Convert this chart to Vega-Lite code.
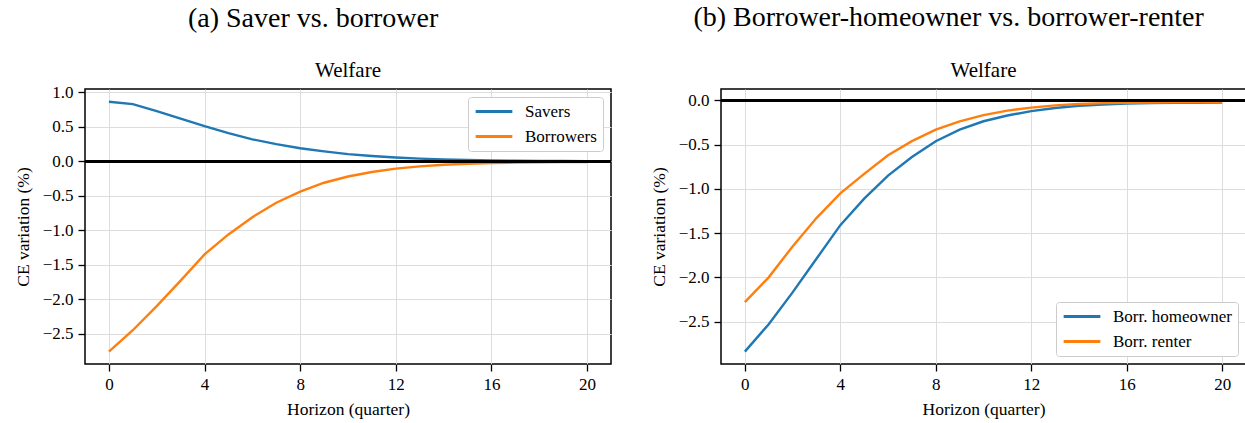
{
  "$schema": "https://vega.github.io/schema/vega-lite/v6.json",
  "background": "white",
  "padding": {"left": 13, "top": 4, "right": 1, "bottom": 2},
  "config": {
    "font": "Liberation Serif",
    "view": {"stroke": "black", "strokeWidth": 1.5},
    "axis": {
      "domain": false,
      "tickColor": "black",
      "tickSize": 7,
      "tickWidth": 1.3,
      "labelPadding": 5,
      "labelFontSize": 17,
      "labelColor": "black",
      "labelFont": "Liberation Serif",
      "labelOverlap": false,
      "labelFlush": false,
      "titleFont": "Liberation Serif",
      "titleFontSize": 17.5,
      "titleFontWeight": "normal",
      "titleColor": "black",
      "gridColor": "#dddddd",
      "gridWidth": 1
    },
    "axisX": {"titlePadding": 8},
    "axisY": {"titlePadding": 10},
    "legend": {
      "title": null,
      "fillColor": "white",
      "strokeColor": "#cccccc",
      "cornerRadius": 3,
      "padding": 6,
      "offset": 8,
      "symbolType": "stroke",
      "symbolSize": 1347,
      "symbolStrokeWidth": 3,
      "labelFont": "Liberation Serif",
      "labelFontSize": 17,
      "labelColor": "black",
      "labelOffset": 11,
      "clipHeight": 17,
      "rowPadding": 7
    }
  },
  "datasets": {
    "welfare": [
      {"panel": "a", "series": "Savers", "h": 0, "v": 0.865},
      {"panel": "a", "series": "Savers", "h": 1, "v": 0.83},
      {"panel": "a", "series": "Savers", "h": 2, "v": 0.73},
      {"panel": "a", "series": "Savers", "h": 3, "v": 0.62},
      {"panel": "a", "series": "Savers", "h": 4, "v": 0.51},
      {"panel": "a", "series": "Savers", "h": 5, "v": 0.41},
      {"panel": "a", "series": "Savers", "h": 6, "v": 0.32},
      {"panel": "a", "series": "Savers", "h": 7, "v": 0.25},
      {"panel": "a", "series": "Savers", "h": 8, "v": 0.19},
      {"panel": "a", "series": "Savers", "h": 9, "v": 0.145},
      {"panel": "a", "series": "Savers", "h": 10, "v": 0.105},
      {"panel": "a", "series": "Savers", "h": 11, "v": 0.078},
      {"panel": "a", "series": "Savers", "h": 12, "v": 0.056},
      {"panel": "a", "series": "Savers", "h": 13, "v": 0.04},
      {"panel": "a", "series": "Savers", "h": 14, "v": 0.028},
      {"panel": "a", "series": "Savers", "h": 15, "v": 0.02},
      {"panel": "a", "series": "Savers", "h": 16, "v": 0.014},
      {"panel": "a", "series": "Savers", "h": 17, "v": 0.01},
      {"panel": "a", "series": "Savers", "h": 18, "v": 0.007},
      {"panel": "a", "series": "Savers", "h": 19, "v": 0.005},
      {"panel": "a", "series": "Savers", "h": 20, "v": 0.004},
      {"panel": "a", "series": "Borrowers", "h": 0, "v": -2.76},
      {"panel": "a", "series": "Borrowers", "h": 1, "v": -2.45},
      {"panel": "a", "series": "Borrowers", "h": 2, "v": -2.1},
      {"panel": "a", "series": "Borrowers", "h": 3, "v": -1.73},
      {"panel": "a", "series": "Borrowers", "h": 4, "v": -1.35},
      {"panel": "a", "series": "Borrowers", "h": 5, "v": -1.06},
      {"panel": "a", "series": "Borrowers", "h": 6, "v": -0.81},
      {"panel": "a", "series": "Borrowers", "h": 7, "v": -0.6},
      {"panel": "a", "series": "Borrowers", "h": 8, "v": -0.44},
      {"panel": "a", "series": "Borrowers", "h": 9, "v": -0.31},
      {"panel": "a", "series": "Borrowers", "h": 10, "v": -0.22},
      {"panel": "a", "series": "Borrowers", "h": 11, "v": -0.155},
      {"panel": "a", "series": "Borrowers", "h": 12, "v": -0.105},
      {"panel": "a", "series": "Borrowers", "h": 13, "v": -0.072},
      {"panel": "a", "series": "Borrowers", "h": 14, "v": -0.05},
      {"panel": "a", "series": "Borrowers", "h": 15, "v": -0.035},
      {"panel": "a", "series": "Borrowers", "h": 16, "v": -0.025},
      {"panel": "a", "series": "Borrowers", "h": 17, "v": -0.018},
      {"panel": "a", "series": "Borrowers", "h": 18, "v": -0.014},
      {"panel": "a", "series": "Borrowers", "h": 19, "v": -0.011},
      {"panel": "a", "series": "Borrowers", "h": 20, "v": -0.009},
      {"panel": "b", "series": "Borr. homeowner", "h": 0, "v": -2.84},
      {"panel": "b", "series": "Borr. homeowner", "h": 1, "v": -2.53},
      {"panel": "b", "series": "Borr. homeowner", "h": 2, "v": -2.17},
      {"panel": "b", "series": "Borr. homeowner", "h": 3, "v": -1.79},
      {"panel": "b", "series": "Borr. homeowner", "h": 4, "v": -1.41},
      {"panel": "b", "series": "Borr. homeowner", "h": 5, "v": -1.11},
      {"panel": "b", "series": "Borr. homeowner", "h": 6, "v": -0.85},
      {"panel": "b", "series": "Borr. homeowner", "h": 7, "v": -0.64},
      {"panel": "b", "series": "Borr. homeowner", "h": 8, "v": -0.46},
      {"panel": "b", "series": "Borr. homeowner", "h": 9, "v": -0.33},
      {"panel": "b", "series": "Borr. homeowner", "h": 10, "v": -0.235},
      {"panel": "b", "series": "Borr. homeowner", "h": 11, "v": -0.17},
      {"panel": "b", "series": "Borr. homeowner", "h": 12, "v": -0.12},
      {"panel": "b", "series": "Borr. homeowner", "h": 13, "v": -0.085},
      {"panel": "b", "series": "Borr. homeowner", "h": 14, "v": -0.06},
      {"panel": "b", "series": "Borr. homeowner", "h": 15, "v": -0.045},
      {"panel": "b", "series": "Borr. homeowner", "h": 16, "v": -0.035},
      {"panel": "b", "series": "Borr. homeowner", "h": 17, "v": -0.03},
      {"panel": "b", "series": "Borr. homeowner", "h": 18, "v": -0.027},
      {"panel": "b", "series": "Borr. homeowner", "h": 19, "v": -0.025},
      {"panel": "b", "series": "Borr. homeowner", "h": 20, "v": -0.024},
      {"panel": "b", "series": "Borr. renter", "h": 0, "v": -2.28},
      {"panel": "b", "series": "Borr. renter", "h": 1, "v": -2.0},
      {"panel": "b", "series": "Borr. renter", "h": 2, "v": -1.65},
      {"panel": "b", "series": "Borr. renter", "h": 3, "v": -1.33},
      {"panel": "b", "series": "Borr. renter", "h": 4, "v": -1.05},
      {"panel": "b", "series": "Borr. renter", "h": 5, "v": -0.83},
      {"panel": "b", "series": "Borr. renter", "h": 6, "v": -0.62},
      {"panel": "b", "series": "Borr. renter", "h": 7, "v": -0.46},
      {"panel": "b", "series": "Borr. renter", "h": 8, "v": -0.33},
      {"panel": "b", "series": "Borr. renter", "h": 9, "v": -0.235},
      {"panel": "b", "series": "Borr. renter", "h": 10, "v": -0.165},
      {"panel": "b", "series": "Borr. renter", "h": 11, "v": -0.115},
      {"panel": "b", "series": "Borr. renter", "h": 12, "v": -0.08},
      {"panel": "b", "series": "Borr. renter", "h": 13, "v": -0.055},
      {"panel": "b", "series": "Borr. renter", "h": 14, "v": -0.04},
      {"panel": "b", "series": "Borr. renter", "h": 15, "v": -0.03},
      {"panel": "b", "series": "Borr. renter", "h": 16, "v": -0.025},
      {"panel": "b", "series": "Borr. renter", "h": 17, "v": -0.022},
      {"panel": "b", "series": "Borr. renter", "h": 18, "v": -0.02},
      {"panel": "b", "series": "Borr. renter", "h": 19, "v": -0.02},
      {"panel": "b", "series": "Borr. renter", "h": 20, "v": -0.02}
    ]
  },
  "spacing": 36,
  "resolve": {"scale": {"x": "independent", "y": "independent", "color": "independent"}, "legend": {"color": "independent"}},
  "hconcat": [
    {
      "title": {"text": "(a) Saver vs. borrower", "fontSize": 28, "fontWeight": "normal", "font": "Liberation Serif", "color": "black", "frame": "bounds", "anchor": "middle", "baseline": "alphabetic", "offset": 5},
      "resolve": {"scale": {"color": "independent"}, "legend": {"color": "independent"}},
      "vconcat": [
        {
          "title": {"text": "Welfare", "fontSize": 21, "fontWeight": "normal", "font": "Liberation Serif", "color": "black", "frame": "group", "anchor": "middle", "baseline": "alphabetic", "offset": -15},
          "width": 526,
          "height": 275,
          "data": {"name": "welfare"},
          "transform": [{"filter": "datum.panel === 'a'"}],
          "layer": [
            {
              "mark": {"type": "line", "strokeWidth": 2.4},
              "encoding": {
                "x": {"field": "h", "type": "quantitative", "title": "Horizon (quarter)",
                      "scale": {"domain": [-1, 21], "nice": false, "zero": false},
                      "axis": {"values": [0, 4, 8, 12, 16, 20], "tickCount": 12, "labelOverlap": false, "labelFontSize": 17, "titleFontSize": 17.5}},
                "y": {"field": "v", "type": "quantitative", "title": "CE variation (%)",
                      "scale": {"domain": [-2.94, 1.05], "nice": false, "zero": false},
                      "axis": {"values": [1, 0.5, 0, -0.5, -1, -1.5, -2, -2.5], "tickCount": 12, "format": ".1f", "labelOverlap": false, "labelFontSize": 17, "titleFontSize": 17.5}},
                "color": {"field": "series", "type": "nominal",
                          "scale": {"domain": ["Savers", "Borrowers"], "range": ["#1f77b4", "#ff7f0e"]},
                          "legend": {"orient": "top-right"}}
              }
            },
            {
              "mark": {"type": "rule", "color": "black", "strokeWidth": 2.2},
              "encoding": {"y": {"datum": 0}}
            }
          ]
        }
      ]
    },
    {
      "title": {"text": "(b) Borrower-homeowner vs. borrower-renter", "fontSize": 28, "fontWeight": "normal", "font": "Liberation Serif", "color": "black", "frame": "bounds", "anchor": "middle", "baseline": "alphabetic", "offset": 5},
      "resolve": {"scale": {"color": "independent"}, "legend": {"color": "independent"}},
      "vconcat": [
        {
          "title": {"text": "Welfare", "fontSize": 21, "fontWeight": "normal", "font": "Liberation Serif", "color": "black", "frame": "group", "anchor": "middle", "baseline": "alphabetic", "offset": -9},
          "width": 525,
          "height": 275,
          "data": {"name": "welfare"},
          "transform": [{"filter": "datum.panel === 'b'"}],
          "layer": [
            {
              "mark": {"type": "line", "strokeWidth": 2.4},
              "encoding": {
                "x": {"field": "h", "type": "quantitative", "title": "Horizon (quarter)",
                      "scale": {"domain": [-1, 21], "nice": false, "zero": false},
                      "axis": {"values": [0, 4, 8, 12, 16, 20], "tickCount": 12, "labelOverlap": false, "labelFontSize": 17, "titleFontSize": 17.5}},
                "y": {"field": "v", "type": "quantitative", "title": "CE variation (%)",
                      "scale": {"domain": [-2.98, 0.13], "nice": false, "zero": false},
                      "axis": {"values": [0, -0.5, -1, -1.5, -2, -2.5], "tickCount": 12, "format": ".1f", "labelOverlap": false, "labelFontSize": 17, "titleFontSize": 17.5}},
                "color": {"field": "series", "type": "nominal",
                          "scale": {"domain": ["Borr. homeowner", "Borr. renter"], "range": ["#1f77b4", "#ff7f0e"]},
                          "legend": {"orient": "bottom-right"}}
              }
            },
            {
              "mark": {"type": "rule", "color": "black", "strokeWidth": 2.2},
              "encoding": {"y": {"datum": 0}}
            }
          ]
        }
      ]
    }
  ]
}
